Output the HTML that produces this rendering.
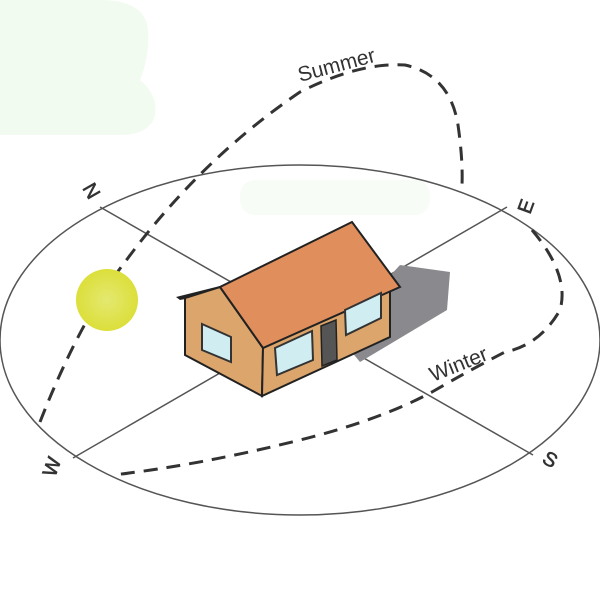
<!DOCTYPE html>
<html><head><meta charset="utf-8"><style>html,body{margin:0;padding:0;background:#fff}svg{display:block}</style></head>
<body>
<svg width="600" height="600" viewBox="0 0 600 600" xmlns="http://www.w3.org/2000/svg">
<defs>
<radialGradient id="sun" cx="0.5" cy="0.5" r="0.5"><stop offset="0" stop-color="#e4e870"/><stop offset="1" stop-color="#dcdf3a"/></radialGradient>
</defs>
<rect width="600" height="600" fill="#fff"/>
<path d="M0 0 H100 Q145 0 148 30 Q150 55 140 80 Q158 95 155 115 Q150 135 120 135 H0 Z" fill="#f1fbef"/>
<rect x="240" y="180" width="190" height="35" rx="15" fill="#f7fcf6"/>
<ellipse cx="300" cy="340" rx="300" ry="175" fill="none" stroke="#555" stroke-width="1.5"/>
<line x1="100" y1="207" x2="533" y2="455" stroke="#555" stroke-width="1.5"/>
<line x1="507" y1="207" x2="73" y2="458" stroke="#555" stroke-width="1.5"/>
<g fill="none" stroke="#333" stroke-width="3" stroke-dasharray="14 9">
<path d="M40 422 Q80 320 125 262 Q200 160 300 92 Q360 62 405 65 Q450 75 458 125 Q463 160 462 185"/>
<path d="M532 230 Q570 275 560 310 Q540 345 505 352 Q470 370 432 392 Q380 420 300 440 Q200 465 113 475"/>
</g>
<circle cx="107" cy="300" r="31" fill="url(#sun)"/>
<polygon points="388,278 400,265 450,272 447,310 360,362 350,350" fill="#8a8a8e"/>
<polygon points="176,297 220,286 352,222 354,226 222,292 180,300" fill="#222"/>
<polygon points="185,298 220,287 263,348 262,396 185,355" fill="#dba56c" stroke="#222" stroke-width="2"/>
<polygon points="263,348 390,290 390,337 262,396" fill="#dba56c" stroke="#222" stroke-width="2"/>
<polygon points="220,287 352,222 400,287 263,348" fill="#e08f5c" stroke="#222" stroke-width="2"/>
<polygon points="202,324 231,337 231,362 202,350" fill="#d0eef2" stroke="#333" stroke-width="2"/>
<polygon points="275,348 312,331 313,360 277,375" fill="#d0eef2" stroke="#333" stroke-width="2"/>
<polygon points="345,310 381,293 381,318 346,335" fill="#d0eef2" stroke="#333" stroke-width="2"/>
<polygon points="321,326 336,320 337,360 322,366" fill="#555" stroke="#222" stroke-width="1.5"/>
<g font-family="Liberation Sans, sans-serif" fill="#333" font-size="20">
<text transform="translate(300,82) rotate(-15)" font-size="21">Summer</text>
<text transform="translate(433,382) rotate(-22)" font-size="21">Winter</text>
<text transform="translate(82,188) rotate(60)" font-size="20" stroke="#333" stroke-width="0.6">N</text>
<text transform="translate(530,215) rotate(-70)" font-size="20" stroke="#333" stroke-width="0.6">E</text>
<text transform="translate(55,478) rotate(-70)" font-size="20" stroke="#333" stroke-width="0.6">W</text>
<text transform="translate(541,462) rotate(30)" font-size="20" stroke="#333" stroke-width="0.6">S</text>
</g>
</svg>
</body></html>
